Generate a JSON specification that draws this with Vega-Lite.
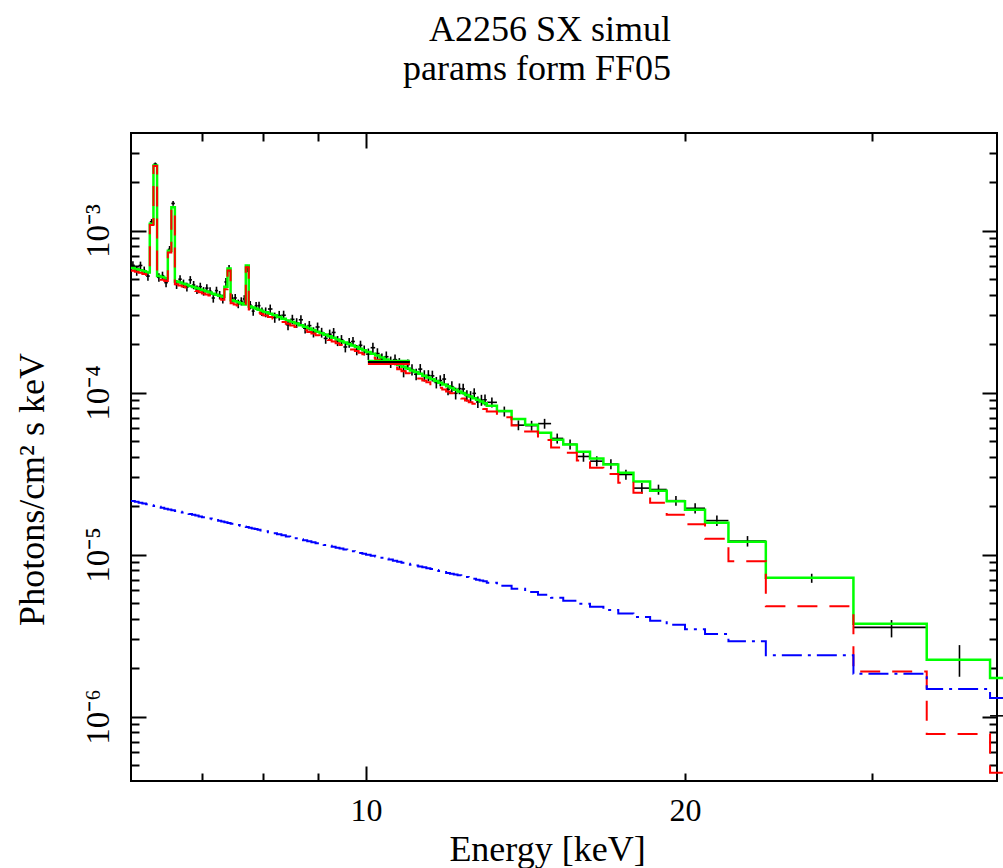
{
"$schema":"https://vega.github.io/schema/vega-lite/v6.json",
"width":866,"height":648,
"autosize":{"type":"none"},
"padding":{"left":131,"top":133,"right":6,"bottom":87},
"background":"white",
"config":{"view":{"stroke":"black","strokeWidth":2},"font":"Liberation Serif",
 "axis":{"domain":false,"grid":false,"tickColor":"black","tickWidth":2,"labelFont":"Liberation Serif","titleFont":"Liberation Serif","labelColor":"black","titleColor":"black","titleFontWeight":"normal"}},
"title":{"text":["A2256 SX simul","params form FF05"],"anchor":"end","frame":"group","dx":-326,"font":"Liberation Serif","fontSize":36,"fontWeight":"normal","color":"black","offset":44,"lineHeight":39},
"resolve":{"axis":{"x":"independent","y":"independent"}},
"datasets":{"bins":[
{"e0":6.00,"e1":6.05,"ec":6.025,"g":5.864e-4,"r":5.650e-4,"b":2.138e-5,"d":6.099e-4,"lo":5.747e-4,"hi":6.451e-4},
{"e0":6.05,"e1":6.10,"ec":6.075,"g":5.776e-4,"r":5.565e-4,"b":2.114e-5,"d":5.603e-4,"lo":5.256e-4,"hi":5.950e-4},
{"e0":6.10,"e1":6.15,"ec":6.125,"g":5.688e-4,"r":5.479e-4,"b":2.090e-5,"d":6.086e-4,"lo":5.745e-4,"hi":6.427e-4},
{"e0":6.15,"e1":6.20,"ec":6.175,"g":5.600e-4,"r":5.393e-4,"b":2.065e-5,"d":5.656e-4,"lo":5.320e-4,"hi":5.992e-4},
{"e0":6.20,"e1":6.25,"ec":6.225,"g":5.511e-4,"r":5.307e-4,"b":2.041e-5,"d":5.235e-4,"lo":4.904e-4,"hi":5.566e-4},
{"e0":6.25,"e1":6.30,"ec":6.275,"g":1.10e-3,"r":1.08e-3,"b":2.017e-5,"d":1.133e-3,"lo":1.088e-3,"hi":1.178e-3},
{"e0":6.30,"e1":6.35,"ec":6.325,"g":2.52e-3,"r":2.50e-3,"b":1.993e-5,"d":2.57e-3,"lo":2.51e-3,"hi":2.63e-3},
{"e0":6.35,"e1":6.40,"ec":6.375,"g":5.247e-4,"r":5.050e-4,"b":1.969e-5,"d":5.142e-4,"lo":4.827e-4,"hi":5.457e-4},
{"e0":6.40,"e1":6.45,"ec":6.425,"g":5.159e-4,"r":4.965e-4,"b":1.944e-5,"d":5.262e-4,"lo":4.952e-4,"hi":5.572e-4},
{"e0":6.45,"e1":6.50,"ec":6.475,"g":5.071e-4,"r":4.879e-4,"b":1.920e-5,"d":4.767e-4,"lo":4.463e-4,"hi":5.071e-4},
{"e0":6.50,"e1":6.55,"ec":6.525,"g":7.50e-4,"r":7.31e-4,"b":1.898e-5,"d":7.65e-4,"lo":7.27e-4,"hi":8.03e-4},
{"e0":6.55,"e1":6.60,"ec":6.575,"g":1.39e-3,"r":1.37e-3,"b":1.878e-5,"d":1.47e-3,"lo":1.42e-3,"hi":1.52e-3},
{"e0":6.60,"e1":6.65,"ec":6.625,"g":4.843e-4,"r":4.657e-4,"b":1.858e-5,"d":4.649e-4,"lo":4.358e-4,"hi":4.940e-4},
{"e0":6.65,"e1":6.70,"ec":6.675,"g":4.770e-4,"r":4.586e-4,"b":1.838e-5,"d":5.009e-4,"lo":4.723e-4,"hi":5.295e-4},
{"e0":6.70,"e1":6.75,"ec":6.725,"g":4.697e-4,"r":4.515e-4,"b":1.818e-5,"d":4.697e-4,"lo":4.415e-4,"hi":4.979e-4},
{"e0":6.75,"e1":6.80,"ec":6.775,"g":4.623e-4,"r":4.443e-4,"b":1.799e-5,"d":4.484e-4,"lo":4.207e-4,"hi":4.761e-4},
{"e0":6.80,"e1":6.85,"ec":6.825,"g":4.550e-4,"r":4.372e-4,"b":1.779e-5,"d":4.960e-4,"lo":4.687e-4,"hi":5.233e-4},
{"e0":6.85,"e1":6.90,"ec":6.875,"g":4.476e-4,"r":4.300e-4,"b":1.759e-5,"d":4.610e-4,"lo":4.341e-4,"hi":4.879e-4},
{"e0":6.90,"e1":6.95,"ec":6.925,"g":4.403e-4,"r":4.229e-4,"b":1.739e-5,"d":4.315e-4,"lo":4.051e-4,"hi":4.579e-4},
{"e0":6.95,"e1":7.00,"ec":6.975,"g":4.330e-4,"r":4.158e-4,"b":1.719e-5,"d":4.503e-4,"lo":4.243e-4,"hi":4.763e-4},
{"e0":7.00,"e1":7.05,"ec":7.025,"g":4.262e-4,"r":4.092e-4,"b":1.701e-5,"d":4.219e-4,"lo":3.963e-4,"hi":4.475e-4},
{"e0":7.05,"e1":7.10,"ec":7.075,"g":4.201e-4,"r":4.033e-4,"b":1.684e-5,"d":4.411e-4,"lo":4.159e-4,"hi":4.663e-4},
{"e0":7.10,"e1":7.15,"ec":7.125,"g":4.140e-4,"r":3.973e-4,"b":1.667e-5,"d":4.223e-4,"lo":3.975e-4,"hi":4.471e-4},
{"e0":7.15,"e1":7.20,"ec":7.175,"g":4.078e-4,"r":3.913e-4,"b":1.651e-5,"d":3.833e-4,"lo":3.588e-4,"hi":4.078e-4},
{"e0":7.20,"e1":7.25,"ec":7.225,"g":4.017e-4,"r":3.854e-4,"b":1.634e-5,"d":4.258e-4,"lo":4.017e-4,"hi":4.499e-4},
{"e0":7.25,"e1":7.30,"ec":7.275,"g":3.956e-4,"r":3.794e-4,"b":1.617e-5,"d":3.996e-4,"lo":3.759e-4,"hi":4.233e-4},
{"e0":7.30,"e1":7.35,"ec":7.325,"g":3.895e-4,"r":3.735e-4,"b":1.601e-5,"d":3.778e-4,"lo":3.544e-4,"hi":4.012e-4},
{"e0":7.35,"e1":7.40,"ec":7.375,"g":4.50e-4,"r":4.34e-4,"b":1.584e-5,"d":4.815e-4,"lo":4.545e-4,"hi":5.085e-4},
{"e0":7.40,"e1":7.45,"ec":7.425,"g":5.82e-4,"r":5.66e-4,"b":1.567e-5,"d":5.82e-4,"lo":5.52e-4,"hi":6.12e-4},
{"e0":7.45,"e1":7.50,"ec":7.475,"g":3.711e-4,"r":3.556e-4,"b":1.550e-5,"d":3.822e-4,"lo":3.599e-4,"hi":4.045e-4},
{"e0":7.50,"e1":7.55,"ec":7.525,"g":3.654e-4,"r":3.500e-4,"b":1.535e-5,"d":3.837e-4,"lo":3.618e-4,"hi":4.056e-4},
{"e0":7.55,"e1":7.60,"ec":7.575,"g":3.603e-4,"r":3.451e-4,"b":1.521e-5,"d":3.531e-4,"lo":3.315e-4,"hi":3.747e-4},
{"e0":7.60,"e1":7.65,"ec":7.625,"g":3.552e-4,"r":3.401e-4,"b":1.507e-5,"d":3.659e-4,"lo":3.446e-4,"hi":3.872e-4},
{"e0":7.65,"e1":7.70,"ec":7.675,"g":3.501e-4,"r":3.352e-4,"b":1.492e-5,"d":3.781e-4,"lo":3.571e-4,"hi":3.991e-4},
{"e0":7.70,"e1":7.75,"ec":7.725,"g":6.08e-4,"r":5.93e-4,"b":1.478e-5,"d":5.837e-4,"lo":5.537e-4,"hi":6.137e-4},
{"e0":7.75,"e1":7.80,"ec":7.775,"g":3.398e-4,"r":3.252e-4,"b":1.464e-5,"d":3.466e-4,"lo":3.262e-4,"hi":3.670e-4},
{"e0":7.80,"e1":7.85,"ec":7.825,"g":3.347e-4,"r":3.202e-4,"b":1.450e-5,"d":3.180e-4,"lo":2.979e-4,"hi":3.381e-4},
{"e0":7.85,"e1":7.90,"ec":7.875,"g":3.296e-4,"r":3.152e-4,"b":1.436e-5,"d":3.428e-4,"lo":3.230e-4,"hi":3.626e-4},
{"e0":7.90,"e1":7.95,"ec":7.925,"g":3.245e-4,"r":3.103e-4,"b":1.421e-5,"d":3.440e-4,"lo":3.245e-4,"hi":3.635e-4},
{"e0":7.95,"e1":8.00,"ec":7.975,"g":3.194e-4,"r":3.053e-4,"b":1.407e-5,"d":3.162e-4,"lo":2.970e-4,"hi":3.354e-4},
{"e0":8.00,"e1":8.08,"ec":8.04,"g":3.133e-4,"r":2.994e-4,"b":1.390e-5,"d":3.133e-4,"lo":2.914e-4,"hi":3.352e-4},
{"e0":8.08,"e1":8.16,"ec":8.12,"g":3.064e-4,"r":2.927e-4,"b":1.371e-5,"d":3.278e-4,"lo":3.064e-4,"hi":3.492e-4},
{"e0":8.16,"e1":8.24,"ec":8.20,"g":2.995e-4,"r":2.860e-4,"b":1.352e-5,"d":2.905e-4,"lo":2.695e-4,"hi":3.115e-4},
{"e0":8.24,"e1":8.32,"ec":8.28,"g":2.926e-4,"r":2.793e-4,"b":1.333e-5,"d":2.985e-4,"lo":2.780e-4,"hi":3.190e-4},
{"e0":8.32,"e1":8.40,"ec":8.36,"g":2.857e-4,"r":2.726e-4,"b":1.314e-5,"d":3.000e-4,"lo":2.800e-4,"hi":3.200e-4},
{"e0":8.40,"e1":8.48,"ec":8.44,"g":2.788e-4,"r":2.659e-4,"b":1.294e-5,"d":2.621e-4,"lo":2.426e-4,"hi":2.816e-4},
{"e0":8.48,"e1":8.56,"ec":8.52,"g":2.721e-4,"r":2.593e-4,"b":1.276e-5,"d":2.830e-4,"lo":2.640e-4,"hi":3.020e-4},
{"e0":8.56,"e1":8.64,"ec":8.60,"g":2.663e-4,"r":2.537e-4,"b":1.259e-5,"d":2.690e-4,"lo":2.504e-4,"hi":2.876e-4},
{"e0":8.64,"e1":8.72,"ec":8.68,"g":2.605e-4,"r":2.481e-4,"b":1.242e-5,"d":2.813e-4,"lo":2.631e-4,"hi":2.995e-4},
{"e0":8.72,"e1":8.80,"ec":8.76,"g":2.547e-4,"r":2.424e-4,"b":1.225e-5,"d":2.496e-4,"lo":2.318e-4,"hi":2.674e-4},
{"e0":8.80,"e1":8.88,"ec":8.84,"g":2.489e-4,"r":2.368e-4,"b":1.209e-5,"d":2.589e-4,"lo":2.415e-4,"hi":2.763e-4},
{"e0":8.88,"e1":8.96,"ec":8.92,"g":2.430e-4,"r":2.311e-4,"b":1.192e-5,"d":2.357e-4,"lo":2.187e-4,"hi":2.527e-4},
{"e0":8.96,"e1":9.04,"ec":9.00,"g":2.372e-4,"r":2.254e-4,"b":1.175e-5,"d":2.538e-4,"lo":2.372e-4,"hi":2.704e-4},
{"e0":9.04,"e1":9.12,"ec":9.08,"g":2.323e-4,"r":2.207e-4,"b":1.160e-5,"d":2.346e-4,"lo":2.183e-4,"hi":2.509e-4},
{"e0":9.12,"e1":9.20,"ec":9.16,"g":2.273e-4,"r":2.158e-4,"b":1.146e-5,"d":2.159e-4,"lo":2.000e-4,"hi":2.318e-4},
{"e0":9.20,"e1":9.28,"ec":9.24,"g":2.224e-4,"r":2.111e-4,"b":1.131e-5,"d":2.291e-4,"lo":2.135e-4,"hi":2.447e-4},
{"e0":9.28,"e1":9.36,"ec":9.32,"g":2.175e-4,"r":2.063e-4,"b":1.117e-5,"d":2.349e-4,"lo":2.197e-4,"hi":2.501e-4},
{"e0":9.36,"e1":9.44,"ec":9.40,"g":2.126e-4,"r":2.016e-4,"b":1.102e-5,"d":2.083e-4,"lo":1.934e-4,"hi":2.232e-4},
{"e0":9.44,"e1":9.52,"ec":9.48,"g":2.076e-4,"r":1.967e-4,"b":1.088e-5,"d":2.118e-4,"lo":1.973e-4,"hi":2.263e-4},
{"e0":9.52,"e1":9.60,"ec":9.56,"g":2.033e-4,"r":1.926e-4,"b":1.074e-5,"d":1.911e-4,"lo":1.769e-4,"hi":2.053e-4},
{"e0":9.60,"e1":9.68,"ec":9.64,"g":1.991e-4,"r":1.885e-4,"b":1.062e-5,"d":2.031e-4,"lo":1.892e-4,"hi":2.170e-4},
{"e0":9.68,"e1":9.76,"ec":9.72,"g":1.949e-4,"r":1.844e-4,"b":1.049e-5,"d":2.066e-4,"lo":1.930e-4,"hi":2.202e-4},
{"e0":9.76,"e1":9.84,"ec":9.80,"g":1.907e-4,"r":1.803e-4,"b":1.036e-5,"d":1.831e-4,"lo":1.698e-4,"hi":1.964e-4},
{"e0":9.84,"e1":9.92,"ec":9.88,"g":1.865e-4,"r":1.763e-4,"b":1.023e-5,"d":1.958e-4,"lo":1.827e-4,"hi":2.089e-4},
{"e0":9.92,"e1":10.0,"ec":9.96,"g":1.823e-4,"r":1.722e-4,"b":1.010e-5,"d":1.823e-4,"lo":1.695e-4,"hi":1.951e-4},
{"e0":10.0,"e1":10.1,"ec":10.05,"g":1.780e-4,"r":1.680e-4,"b":9.97e-6,"d":1.727e-4,"lo":1.585e-4,"hi":1.869e-4},
{"e0":10.1,"e1":10.2,"ec":10.15,"g":1.735e-4,"r":1.637e-4,"b":9.84e-6,"d":1.891e-4,"lo":1.752e-4,"hi":2.030e-4},
{"e0":10.2,"e1":10.3,"ec":10.25,"g":1.690e-4,"r":1.593e-4,"b":9.71e-6,"d":1.741e-4,"lo":1.606e-4,"hi":1.876e-4},
{"e0":10.3,"e1":10.4,"ec":10.35,"g":1.645e-4,"r":1.549e-4,"b":9.57e-6,"d":1.612e-4,"lo":1.480e-4,"hi":1.744e-4},
{"e0":10.4,"e1":10.5,"ec":10.45,"g":1.600e-4,"r":1.506e-4,"b":9.44e-6,"d":1.664e-4,"lo":1.536e-4,"hi":1.792e-4},
{"e0":10.5,"e1":10.6,"ec":10.55,"g":1.559e-4,"r":1.466e-4,"b":9.31e-6,"d":1.543e-4,"lo":1.418e-4,"hi":1.668e-4},
{"e0":10.6,"e1":10.7,"ec":10.65,"g":1.520e-4,"r":1.428e-4,"b":9.17e-6,"d":1.596e-4,"lo":1.474e-4,"hi":1.718e-4},
{"e0":10.7,"e1":10.8,"ec":10.75,"g":1.482e-4,"r":1.392e-4,"b":9.04e-6,"d":1.512e-4,"lo":1.393e-4,"hi":1.631e-4},
{"e0":10.8,"e1":10.9,"ec":10.85,"g":1.444e-4,"r":1.355e-4,"b":8.91e-6,"d":1.357e-4,"lo":1.241e-4,"hi":1.473e-4},
{"e0":10.9,"e1":11.0,"ec":10.95,"g":1.405e-4,"r":1.317e-4,"b":8.78e-6,"d":1.489e-4,"lo":1.377e-4,"hi":1.601e-4},
{"e0":11.0,"e1":11.1,"ec":11.05,"g":1.370e-4,"r":1.283e-4,"b":8.66e-6,"d":1.384e-4,"lo":1.274e-4,"hi":1.494e-4},
{"e0":11.1,"e1":11.2,"ec":11.15,"g":1.337e-4,"r":1.251e-4,"b":8.55e-6,"d":1.297e-4,"lo":1.190e-4,"hi":1.404e-4},
{"e0":11.2,"e1":11.3,"ec":11.25,"g":1.304e-4,"r":1.220e-4,"b":8.44e-6,"d":1.395e-4,"lo":1.291e-4,"hi":1.499e-4},
{"e0":11.3,"e1":11.4,"ec":11.35,"g":1.271e-4,"r":1.188e-4,"b":8.34e-6,"d":1.271e-4,"lo":1.169e-4,"hi":1.373e-4},
{"e0":11.4,"e1":11.5,"ec":11.45,"g":1.238e-4,"r":1.156e-4,"b":8.23e-6,"d":1.275e-4,"lo":1.176e-4,"hi":1.374e-4},
{"e0":11.5,"e1":11.6,"ec":11.55,"g":1.207e-4,"r":1.126e-4,"b":8.13e-6,"d":1.267e-4,"lo":1.170e-4,"hi":1.364e-4},
{"e0":11.6,"e1":11.7,"ec":11.65,"g":1.178e-4,"r":1.098e-4,"b":8.02e-6,"d":1.154e-4,"lo":1.060e-4,"hi":1.248e-4},
{"e0":11.7,"e1":11.8,"ec":11.75,"g":1.150e-4,"r":1.071e-4,"b":7.91e-6,"d":1.185e-4,"lo":1.093e-4,"hi":1.277e-4},
{"e0":11.8,"e1":11.9,"ec":11.85,"g":1.121e-4,"r":1.043e-4,"b":7.81e-6,"d":1.211e-4,"lo":1.121e-4,"hi":1.301e-4},
{"e0":11.9,"e1":12.0,"ec":11.95,"g":1.092e-4,"r":1.015e-4,"b":7.70e-6,"d":1.048e-4,"lo":0.961e-4,"hi":1.135e-4},
{"e0":12.0,"e1":12.1,"ec":12.05,"g":1.066e-4,"r":0.990e-4,"b":7.61e-6,"d":1.087e-4,"lo":1.002e-4,"hi":1.172e-4},
{"e0":12.1,"e1":12.2,"ec":12.15,"g":1.041e-4,"r":0.966e-4,"b":7.52e-6,"d":0.989e-4,"lo":0.906e-4,"hi":1.072e-4},
{"e0":12.2,"e1":12.3,"ec":12.25,"g":1.016e-4,"r":0.942e-4,"b":7.44e-6,"d":1.057e-4,"lo":0.976e-4,"hi":1.138e-4},
{"e0":12.3,"e1":12.4,"ec":12.35,"g":0.992e-4,"r":0.919e-4,"b":7.35e-6,"d":1.052e-4,"lo":0.973e-4,"hi":1.131e-4},
{"e0":12.4,"e1":12.5,"ec":12.45,"g":0.967e-4,"r":0.894e-4,"b":7.26e-6,"d":0.957e-4,"lo":0.880e-4,"hi":1.034e-4},
{"e0":12.5,"e1":12.6,"ec":12.55,"g":0.944e-4,"r":0.872e-4,"b":7.18e-6,"d":0.944e-4,"lo":0.868e-4,"hi":1.020e-4},
{"e0":12.6,"e1":12.7,"ec":12.65,"g":0.923e-4,"r":0.852e-4,"b":7.09e-6,"d":0.988e-4,"lo":0.914e-4,"hi":1.062e-4},
{"e0":12.7,"e1":12.8,"ec":12.75,"g":0.901e-4,"r":0.831e-4,"b":7.00e-6,"d":0.874e-4,"lo":0.802e-4,"hi":0.946e-4},
{"e0":12.8,"e1":12.9,"ec":12.85,"g":0.880e-4,"r":0.811e-4,"b":6.92e-6,"d":0.898e-4,"lo":0.828e-4,"hi":0.968e-4},
{"e0":12.9,"e1":13.0,"ec":12.95,"g":0.859e-4,"r":0.791e-4,"b":6.83e-6,"d":0.902e-4,"lo":0.833e-4,"hi":0.971e-4},
{"e0":13.00,"e1":13.29,"ec":13.145,"g":8.30e-5,"r":7.63e-5,"b":6.69e-6,"d":8.70e-5,"lo":8.09e-5,"hi":9.31e-5},
{"e0":13.29,"e1":13.72,"ec":13.505,"g":7.68e-5,"r":7.04e-5,"b":6.42e-6,"d":7.65e-5,"lo":7.11e-5,"hi":8.19e-5},
{"e0":13.72,"e1":14.13,"ec":13.925,"g":6.87e-5,"r":6.26e-5,"b":6.14e-6,"d":6.29e-5,"lo":5.85e-5,"hi":6.73e-5},
{"e0":14.13,"e1":14.53,"ec":14.33,"g":6.33e-5,"r":5.74e-5,"b":5.88e-6,"d":6.25e-5,"lo":5.81e-5,"hi":6.69e-5},
{"e0":14.53,"e1":14.95,"ec":14.74,"g":5.65e-5,"r":5.09e-5,"b":5.64e-6,"d":6.43e-5,"lo":5.98e-5,"hi":6.88e-5},
{"e0":14.95,"e1":15.35,"ec":15.15,"g":5.12e-5,"r":4.58e-5,"b":5.41e-6,"d":5.21e-5,"lo":4.84e-5,"hi":5.58e-5},
{"e0":15.35,"e1":15.81,"ec":15.58,"g":4.77e-5,"r":4.25e-5,"b":5.19e-6,"d":4.79e-5,"lo":4.45e-5,"hi":5.13e-5},
{"e0":15.81,"e1":16.27,"ec":16.04,"g":4.31e-5,"r":3.81e-5,"b":4.97e-6,"d":4.03e-5,"lo":3.74e-5,"hi":4.32e-5},
{"e0":16.27,"e1":16.75,"ec":16.51,"g":3.91e-5,"r":3.43e-5,"b":4.76e-6,"d":3.77e-5,"lo":3.50e-5,"hi":4.04e-5},
{"e0":16.75,"e1":17.30,"ec":17.025,"g":3.59e-5,"r":3.14e-5,"b":4.55e-6,"d":3.62e-5,"lo":3.36e-5,"hi":3.88e-5},
{"e0":17.30,"e1":17.88,"ec":17.59,"g":3.20e-5,"r":2.77e-5,"b":4.33e-6,"d":3.12e-5,"lo":2.90e-5,"hi":3.34e-5},
{"e0":17.88,"e1":18.54,"ec":18.21,"g":2.82e-5,"r":2.41e-5,"b":4.11e-6,"d":2.57e-5,"lo":2.38e-5,"hi":2.76e-5},
{"e0":18.54,"e1":19.22,"ec":18.88,"g":2.48e-5,"r":2.09e-5,"b":3.90e-6,"d":2.52e-5,"lo":2.34e-5,"hi":2.70e-5},
{"e0":19.22,"e1":20.00,"ec":19.61,"g":2.13e-5,"r":1.76e-5,"b":3.68e-6,"d":2.15e-5,"lo":2.00e-5,"hi":2.30e-5},
{"e0":20.00,"e1":20.89,"ec":20.445,"g":1.89e-5,"r":1.54e-5,"b":3.46e-6,"d":1.93e-5,"lo":1.79e-5,"hi":2.07e-5},
{"e0":20.89,"e1":21.98,"ec":21.435,"g":1.57e-5,"r":1.25e-5,"b":3.23e-6,"d":1.62e-5,"lo":1.50e-5,"hi":1.74e-5},
{"e0":21.98,"e1":23.84,"ec":22.91,"g":1.20e-5,"r":9.08e-6,"b":2.92e-6,"d":1.21e-5,"lo":1.12e-5,"hi":1.30e-5},
{"e0":23.84,"e1":28.84,"ec":26.34,"g":7.19e-6,"r":4.80e-6,"b":2.39e-6,"d":7.16e-6,"lo":6.69e-6,"hi":7.61e-6},
{"e0":28.84,"e1":33.82,"ec":31.33,"g":3.74e-6,"r":1.90e-6,"b":1.84e-6,"d":3.55e-6,"lo":3.08e-6,"hi":3.94e-6},
{"e0":33.82,"e1":38.81,"ec":36.315,"g":2.24e-6,"r":7.8e-7,"b":1.48e-6,"d":2.24e-6,"lo":1.76e-6,"hi":2.76e-6},
{"e0":38.81,"e1":40.0,"ec":39.4,"g":1.73e-6,"r":4.5e-7,"b":1.30e-6,"d":1.01e-6,"lo":4.0e-7,"hi":2.01e-6},
{"e0":40.0,"g":1.73e-6,"r":4.5e-7,"b":1.30e-6}
],
"wide":[
{"x0":10.04,"x1":11.0,"v":1.57e-4,"c":"#00ff00"},
{"x0":10.04,"x1":11.0,"v":1.50e-4,"c":"#ff0000"},
{"x0":10.04,"x1":11.0,"v":1.545e-4,"c":"black"}
]},
"data":{"name":"bins"},
"layer":[
{"mark":{"type":"rule","color":"black","strokeWidth":1.6},
 "encoding":{
  "x":{"field":"e0","type":"quantitative","scale":{"type":"log","domain":[6,39.4],"nice":false},
       "axis":{"orient":"bottom","values":[10,20],"ticks":false,"labelFontSize":32,"labelPadding":39,"labelBaseline":"alphabetic","labelExpr":"datum.value < 15 ? '10' : '20'","labelFlush":false,"title":"Energy [keV]","titleFontSize":36,"titleX":416,"titleY":79,"titleBaseline":"alphabetic","titleAlign":"center"}},
  "x2":{"field":"e1"},
  "y":{"field":"d","type":"quantitative","scale":{"type":"log","domain":[4e-7,4e-3],"nice":false},
       "axis":{"orient":"left","values":[0.001,0.0001,0.00001,0.000001],"ticks":false,"labelAngle":-90,"labelAlign":"center","labelBaseline":"alphabetic","labelPadding":23,"labelFontSize":33,"labelFlush":false,"labelExpr":"datum.value > 5e-4 ? '10⁻³' : datum.value > 5e-5 ? '10⁻⁴' : datum.value > 5e-6 ? '10⁻⁵' : '10⁻⁶'","title":"Photons/cm² s keV","titleFontSize":36,"titleAngle":-90,"titleX":-88,"titleY":356,"titleBaseline":"alphabetic","titleAlign":"center"}}}},
{"mark":{"type":"rule","color":"black","strokeWidth":1.6},
 "encoding":{
  "x":{"field":"ec","type":"quantitative","scale":{"type":"log","domain":[6,39.4],"nice":false},
       "axis":{"orient":"bottom","values":[10],"labels":false,"tickSize":-15,"title":null}},
  "y":{"field":"lo","type":"quantitative","scale":{"type":"log","domain":[4e-7,4e-3],"nice":false},
       "axis":{"orient":"left","values":[0.001,0.0001,0.00001,0.000001],"labels":false,"tickSize":-15,"title":null}},
  "y2":{"field":"hi"}}},
{"mark":{"type":"line","color":"#00ff00","strokeWidth":2.5,"interpolate":"step-after"},
 "encoding":{
  "x":{"field":"e0","type":"quantitative","scale":{"type":"log","domain":[6,39.4],"nice":false},
       "axis":{"orient":"bottom","values":[7,8,9,20,30],"labels":false,"tickSize":-8,"title":null}},
  "y":{"field":"g","type":"quantitative","scale":{"type":"log","domain":[4e-7,4e-3],"nice":false},
       "axis":{"orient":"left","values":[5e-7,6e-7,7e-7,8e-7,9e-7,2e-6,3e-6,4e-6,5e-6,6e-6,7e-6,8e-6,9e-6,2e-5,3e-5,4e-5,5e-5,6e-5,7e-5,8e-5,9e-5,2e-4,3e-4,4e-4,5e-4,6e-4,7e-4,8e-4,9e-4,2e-3,3e-3],"labels":false,"tickSize":-8,"title":null}}}},
{"mark":{"type":"line","color":"#ff0000","strokeWidth":2,"interpolate":"step-after","strokeDash":[20,12]},
 "encoding":{
  "x":{"field":"e0","type":"quantitative","scale":{"type":"log","domain":[6,39.4],"nice":false},
       "axis":{"orient":"top","values":[10],"labels":false,"tickSize":-15,"title":null}},
  "y":{"field":"r","type":"quantitative","scale":{"type":"log","domain":[4e-7,4e-3],"nice":false},
       "axis":{"orient":"right","values":[0.001,0.0001,0.00001,0.000001],"labels":false,"tickSize":-15,"title":null}}}},
{"mark":{"type":"line","color":"#0000ff","strokeWidth":2,"interpolate":"step-after","strokeDash":[20,6,3,6]},
 "encoding":{
  "x":{"field":"e0","type":"quantitative","scale":{"type":"log","domain":[6,39.4],"nice":false},
       "axis":{"orient":"top","values":[7,8,9,20,30],"labels":false,"tickSize":-8,"title":null}},
  "y":{"field":"b","type":"quantitative","scale":{"type":"log","domain":[4e-7,4e-3],"nice":false},
       "axis":{"orient":"right","values":[5e-7,6e-7,7e-7,8e-7,9e-7,2e-6,3e-6,4e-6,5e-6,6e-6,7e-6,8e-6,9e-6,2e-5,3e-5,4e-5,5e-5,6e-5,7e-5,8e-5,9e-5,2e-4,3e-4,4e-4,5e-4,6e-4,7e-4,8e-4,9e-4,2e-3,3e-3],"labels":false,"tickSize":-8,"title":null}}}},
{"data":{"name":"wide"},
 "mark":{"type":"rule","strokeWidth":2},
 "encoding":{
  "x":{"field":"x0","type":"quantitative","scale":{"type":"log","domain":[6,39.4],"nice":false},"axis":null},
  "x2":{"field":"x1"},
  "y":{"field":"v","type":"quantitative","scale":{"type":"log","domain":[4e-7,4e-3],"nice":false},"axis":null},
  "color":{"field":"c","type":"nominal","scale":null}}}
]
}
